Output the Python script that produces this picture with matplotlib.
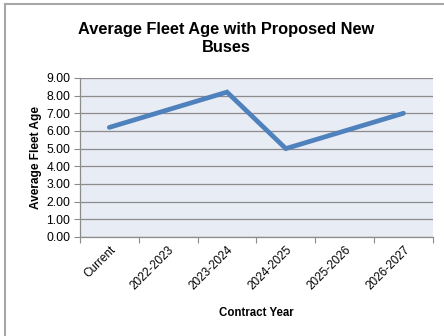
import matplotlib.pyplot as plt
from matplotlib.lines import Line2D
from matplotlib.ticker import FormatStrFormatter
import numpy as np

# data
years = ['Current', '2022-2023', '2023-2024', '2024-2025', '2025-2026', '2026-2027']
fleet_age = [6.2, 7.2, 8.2, 5.0, 6.0, 7.0]
yticks = [0, 1, 2, 3, 4, 5, 6, 7, 8, 9]

plt.rcParams['font.family'] = ['Liberation Sans', 'DejaVu Sans']

fig = plt.figure(figsize=(4.44, 3.36), dpi=100)
ax = fig.add_axes([0.180, 0.295, 0.795, 0.473])

x = np.arange(len(years))
ax.set_facecolor('#e8ecf5')
ax.plot(x, fleet_age, color='#4f81bd', linewidth=3.4, solid_capstyle='round',
        solid_joinstyle='miter', zorder=3)

ax.set_ylim(0, 9)
ax.set_yticks(yticks)
ax.yaxis.set_major_formatter(FormatStrFormatter('%.2f'))
ax.grid(axis='y', color='#8c8c8c', linewidth=0.9)
ax.set_axisbelow(True)

ax.set_xlim(-0.5, len(years) - 0.5)
ax.set_xticks(np.arange(-0.5, len(years), 1.0))
ax.set_xticklabels([])
ax.set_xticks(x, minor=True)
ax.set_xticklabels(years, minor=True, rotation=45, ha='right', rotation_mode='anchor',
                   fontsize=8.5)
ax.tick_params(axis='x', which='minor', length=0, pad=5)
ax.tick_params(axis='x', which='major', length=4, color='#8c8c8c')
ax.tick_params(axis='y', length=4, color='#8c8c8c', labelsize=8.7, pad=3)

for s in ['top', 'right']:
    ax.spines[s].set_visible(False)
for s in ['left', 'bottom']:
    ax.spines[s].set_color('#8c8c8c')
    ax.spines[s].set_linewidth(0.9)

ax.set_ylabel('Average Fleet Age', fontsize=8.6, fontweight='bold', labelpad=3)
ax.set_xlabel('Contract Year', fontsize=8.3, fontweight='bold', labelpad=11)

fig.text(0.51, 0.885, 'Average Fleet Age with Proposed New\nBuses', ha='center', va='center',
         fontsize=11.8, fontweight='bold', linespacing=1.3)

# chart frame
fig.add_artist(Line2D([0.012, 0.012], [0, 0.988], color='#a6a6a6', linewidth=1.5))
fig.add_artist(Line2D([0.012, 1], [0.988, 0.988], color='#a6a6a6', linewidth=1.5))

plt.savefig('out.png', dpi=100)
